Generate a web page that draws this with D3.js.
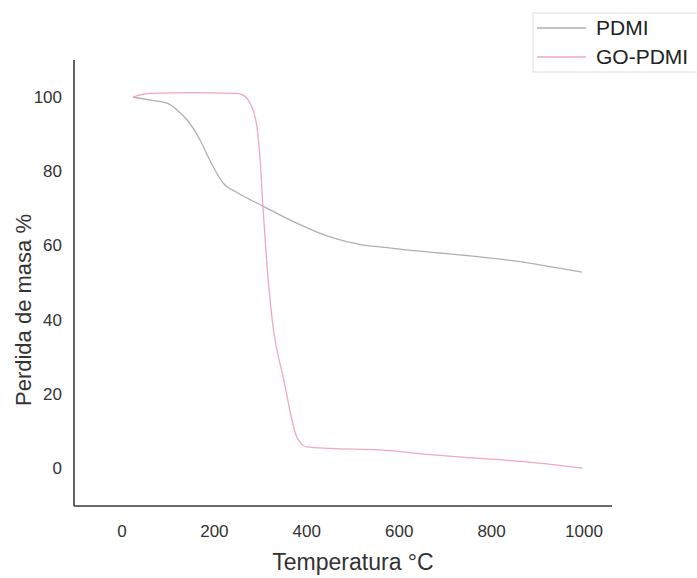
<!DOCTYPE html>
<html><head><meta charset="utf-8">
<script src="https://cdn.jsdelivr.net/npm/d3@7"></script>
<style>body{margin:0;background:#fff;overflow:hidden}svg{display:block}text{font-family:"Liberation Sans",Arial,sans-serif}</style>
</head><body>
<script>
const seriesNames = ["PDMI", "GO-PDMI"];
const seriesColors = ["#b0b0b0", "#f2a8b8"];
const pdmiT = [24, 60, 100, 119, 141, 169, 190, 219, 250, 305, 378, 450, 522, 558, 630, 667, 775, 868, 940, 996];
const pdmiV = [100, 99.2, 98.2, 96.5, 93.8, 88.4, 83, 76.8, 74.2, 70.6, 66, 62.3, 60.1, 59.6, 58.6, 58.2, 56.9, 55.5, 54, 52.8];
const goT = [24, 40, 60, 150, 249, 265, 277, 292, 299, 305, 313, 327, 349, 378, 390, 400, 450, 558, 667, 775, 880, 996];
const goV = [100, 100.6, 101, 101.2, 101, 100.3, 98.4, 92, 83, 70.4, 56, 38, 24.5, 8.4, 6.3, 5.7, 5.3, 4.9, 3.6, 2.6, 1.6, 0];
const xTicks = [0, 200, 400, 600, 800, 1000];
const yTicks = [0, 20, 40, 60, 80, 100];

const W = 697, H = 578;
const svg = d3.select("body").append("svg").attr("width", W).attr("height", H);

const x = d3.scaleLinear().domain([0, 1000]).range([122, 584]);
const y = d3.scaleLinear().domain([0, 100]).range([468, 97]);
const axL = 74, axR = 612, axT = 60, axB = 506;

svg.append("line").attr("x1", axL).attr("x2", axL).attr("y1", axT).attr("y2", axB)
  .attr("stroke", "#3a3a3a").attr("stroke-width", 1.6);
svg.append("line").attr("x1", axL).attr("x2", axR).attr("y1", axB).attr("y2", axB)
  .attr("stroke", "#3a3a3a").attr("stroke-width", 1.6);

svg.selectAll(".xt").data(xTicks).enter().append("text")
  .attr("x", d => x(d)).attr("y", 537).attr("text-anchor", "middle")
  .attr("font-size", 17).attr("fill", "#333").text(d => d);
svg.selectAll(".yt").data(yTicks).enter().append("text")
  .attr("x", 62).attr("y", d => y(d) + 6).attr("text-anchor", "end")
  .attr("font-size", 17).attr("fill", "#333").text(d => d);

svg.append("text").attr("x", 353).attr("y", 570).attr("text-anchor", "middle")
  .attr("font-size", 23).attr("fill", "#333").text("Temperatura °C");
svg.append("text").attr("transform", "translate(31,310) rotate(-90)").attr("text-anchor", "middle")
  .attr("font-size", 22).attr("fill", "#333").text("Perdida de masa %");

const line = d3.line().x(d => x(d[0])).y(d => y(d[1])).curve(d3.curveMonotoneX);
const series = [d3.zip(pdmiT, pdmiV), d3.zip(goT, goV)];
series.forEach((s, i) => {
  svg.append("path").datum(s).attr("d", line).attr("fill", "none")
    .attr("stroke", seriesColors[i]).attr("stroke-width", 1.3);
});

svg.append("rect").attr("x", 533).attr("y", 13).attr("width", 170).attr("height", 59)
  .attr("fill", "none").attr("stroke", "#e0e0e0").attr("stroke-width", 1);
seriesNames.forEach((n, i) => {
  const ly = 28 + i * 29;
  svg.append("line").attr("x1", 537).attr("x2", 586).attr("y1", ly).attr("y2", ly)
    .attr("stroke", seriesColors[i]).attr("stroke-width", 1.3);
  svg.append("text").attr("x", 596).attr("y", ly + 7).attr("font-size", 21).attr("fill", "#222").text(n);
});
</script>
</body></html>
